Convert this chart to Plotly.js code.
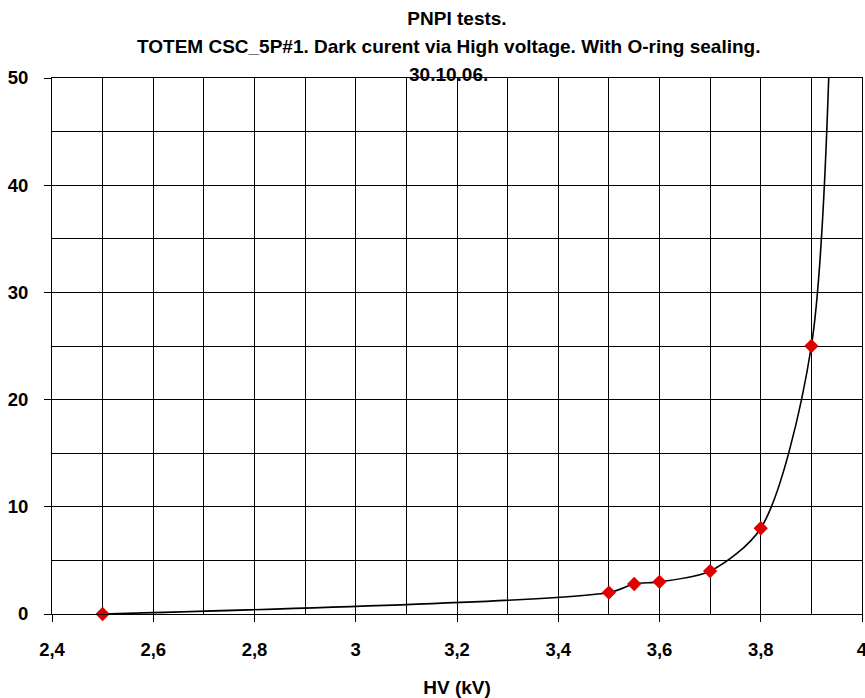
<!DOCTYPE html>
<html>
<head>
<meta charset="utf-8">
<script src="https://cdn.plot.ly/plotly-3.0.1.min.js"></script>
<style>html,body{margin:0;padding:0;background:#fff;}#chart{width:865px;height:698px;}</style>
</head>
<body>
<div id="chart"></div>
<script>
// Measured points (HV in kV, dark current)
const hv = [2.5, 3.5, 3.55, 3.6, 3.7, 3.8, 3.9];
const current = [0, 2, 2.8, 3, 4, 8, 25];
// Curve through the points, continuing beyond the visible range (clipped)
const hvCurve = [2.5, 3.5, 3.55, 3.6, 3.7, 3.8, 3.9, 3.95];
const currentCurve = [0, 2, 2.8, 3, 4, 8, 25, 85];

const titleLines = ["PNPI tests.", "TOTEM CSC_5P#1. Dark curent via High voltage. With O-ring sealing.", "30.10.06."];
const xTitle = "HV (kV)";

const fontFam = "Liberation Sans, Arial, sans-serif";
const tFont = {family: fontFam, size: 19, color: '#000'};

const traces = [
  {
    x: hvCurve, y: currentCurve, mode: 'lines', type: 'scatter',
    line: {color: '#000000', width: 1.6, shape: 'spline', smoothing: 0.8},
    hoverinfo: 'skip', showlegend: false
  },
  {
    x: hv, y: current, mode: 'markers', type: 'scatter',
    marker: {symbol: 'diamond', size: 11, color: '#e00000', line: {width: 0}},
    showlegend: false, cliponaxis: false
  }
];

const layout = {
  width: 865, height: 698,
  margin: {l: 52, r: 3, t: 78, b: 84},
  paper_bgcolor: '#ffffff', plot_bgcolor: '#ffffff',
  separators: ',.',
  showlegend: false,
  font: {family: fontFam, size: 18.5, color: '#000000'},
  title: {
    text: '<b>' + titleLines[0] + '</b>',
    font: tFont,
    x: 0.5, xanchor: 'center', xref: 'paper',
    y: 1 - 18/698, yanchor: 'middle', yref: 'container'
  },
  annotations: [
    {text: '<b>' + titleLines[1] + '</b>', xref: 'paper', yref: 'paper', x: 0.49, y: (614 - 46) / 536,
     xanchor: 'center', yanchor: 'middle', showarrow: false, font: tFont},
    {text: '<b>' + titleLines[2] + '</b>', xref: 'paper', yref: 'paper', x: 0.49, y: (614 - 75) / 536,
     xanchor: 'center', yanchor: 'middle', showarrow: false, font: tFont}
  ],
  xaxis: {
    range: [2.4, 4.0], dtick: 0.2, tick0: 2.4,
    showgrid: true, gridcolor: '#000000', gridwidth: 1,
    minor: {dtick: 0.1, showgrid: true, gridcolor: '#000000', gridwidth: 1},
    showline: true, linecolor: '#000000', linewidth: 1, mirror: true,
    ticks: 'outside', ticklen: 7, tickcolor: '#000', zeroline: false,
    ticklabeloverflow: 'allow', ticklabelstandoff: 12,
    tickfont: {family: fontFam, size: 18.5, color: '#000', weight: 'bold'},
    title: {text: '<b>' + xTitle + '</b>', font: tFont, standoff: 22}
  },
  yaxis: {
    range: [0, 50], dtick: 10, tick0: 0,
    showgrid: true, gridcolor: '#000000', gridwidth: 1,
    minor: {dtick: 5, showgrid: true, gridcolor: '#000000', gridwidth: 1},
    showline: true, linecolor: '#000000', linewidth: 1, mirror: true,
    ticks: 'outside', ticklen: 7, tickcolor: '#000', zeroline: false,
    ticklabelstandoff: 12,
    tickfont: {family: fontFam, size: 18.5, color: '#000', weight: 'bold'}
  }
};

Plotly.newPlot('chart', traces, layout, {displayModeBar: false, staticPlot: true});
</script>
</body>
</html>
